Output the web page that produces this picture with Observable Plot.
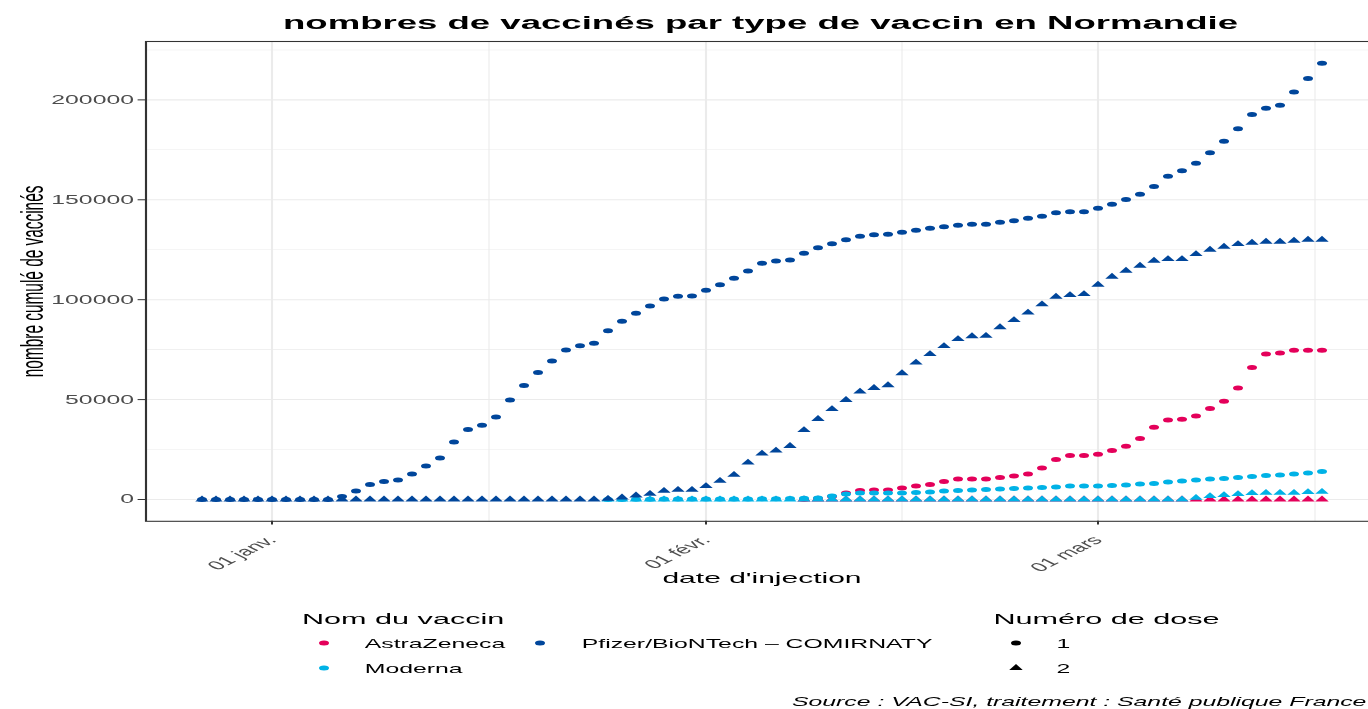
<!DOCTYPE html>
<html><head><meta charset="utf-8">
<script src="https://cdn.jsdelivr.net/npm/d3@7"></script>
<script src="https://cdn.jsdelivr.net/npm/@observablehq/plot@0.6"></script>
<style>
html,body{margin:0;padding:0;background:#fff;overflow:hidden;width:1368px;height:709px;}
#fig{position:absolute;left:0;top:0;width:700px;height:709px;transform:scale(2,1);transform-origin:0 0;font-family:"Liberation Sans",Arial,sans-serif;color:#000;}
.t{position:absolute;line-height:1;white-space:nowrap;}
</style></head><body><div id="fig">
<div class="t" id="title" style="left:0;width:760.5px;text-align:center;top:13.8px;font-size:18.3px;font-weight:bold;"></div>
<div id="chart" style="position:absolute;left:0;top:36px;"></div>
</div>
<script>
// ---------- data ----------
const titre = "nombres de vaccinés par type de vaccin en Normandie";
const yTitle = "nombre cumulé de vaccinés";
const xTitle = "date d'injection";
const caption = "Source : VAC-SI, traitement : Santé publique France";
const legendVaccinTitle = "Nom du vaccin";
const legendDoseTitle = "Numéro de dose";

const vaccins = ["AstraZeneca", "Moderna", "Pfizer/BioNTech – COMIRNATY"];
const couleurs = ["#E4005A", "#00B2E6", "#00469B"];
const doses = ["1", "2"];

const xTickDates = ["2021-01-01", "2021-02-01", "2021-03-01"];
const xTickLabels = ["01 janv.", "01 févr.", "01 mars"];
const xMinorDates = ["2021-01-16T12:00Z", "2021-02-15T00:00Z", "2021-03-16T12:00Z"];
const yMajor = [0, 50000, 100000, 150000, 200000];
const yMinor = [25000, 75000, 125000, 175000, 225000];

// first day of each series
const azStart = "2021-02-08";
const modernaStart = "2021-01-25";
const pfizerStart = "2020-12-27";

// AstraZeneca (from 8 Feb)
const azDose1 = [100, 500, 1500, 3300, 4500, 4700, 4700, 5700, 6700, 7500, 9000, 10300, 10300, 10300, 11000, 11700, 12800, 15800, 20000, 22000, 22000, 22700, 24500, 26700, 30500, 36200, 39800, 40200, 41800, 45500, 49200, 55800, 66000, 72800, 73300, 74700, 74700, 74700];
const azDose2 = [0, 0, 0, 0, 0, 0, 0, 0, 0, 0, 0, 0, 0, 0, 0, 0, 0, 0, 0, 0, 0, 0, 0, 0, 0, 0, 0, 0, 0, 0, 0, 0, 0, 0, 0, 0, 0, 0];

// Moderna (from 25 Jan)
const modernaDose1 = [0, 0, 100, 100, 200, 200, 200, 300, 300, 300, 300, 400, 400, 500, 600, 800, 1700, 2800, 3200, 3200, 3300, 3300, 3500, 3800, 4300, 4500, 4800, 5000, 5200, 5500, 5700, 6000, 6300, 6700, 6800, 6800, 7000, 7300, 7700, 8000, 8700, 9300, 9700, 10200, 10500, 11000, 11500, 12000, 12300, 12800, 13300, 14000];
const modernaDose2 = [0, 0, 0, 0, 0, 0, 0, 0, 0, 0, 0, 0, 0, 0, 0, 0, 0, 0, 0, 0, 0, 0, 0, 0, 0, 0, 0, 0, 0, 0, 0, 0, 0, 0, 0, 0, 0, 0, 0, 0, 0, 0, 800, 1700, 2200, 2700, 3200, 3300, 3300, 3300, 3700, 3800];

// Pfizer/BioNTech (from 27 Dec)
const pfizerDose1 = [0, 0, 0, 0, 0, 0, 0, 0, 0, 0, 1500, 4300, 7500, 9000, 9700, 12800, 16700, 20800, 28800, 35000, 37200, 41300, 49800, 57000, 63500, 69300, 74800, 77000, 78200, 84500, 89200, 93200, 96800, 100300, 101700, 101800, 104700, 107500, 110700, 114300, 118200, 119300, 119800, 123300, 126000, 128000, 130000, 131800, 132500, 132800, 133800, 134800, 135700, 136500, 137200, 137700, 137700, 138700, 139500, 140700, 141800, 143500, 144000, 144000, 145800, 147800, 150200, 152800, 156700, 161800, 164500, 168300, 173500, 179300, 185500, 192700, 195800, 197300, 204000, 210700, 218300];
const pfizerDose2 = [0, 0, 0, 0, 0, 0, 0, 0, 0, 0, 0, 0, 0, 0, 0, 0, 0, 0, 0, 0, 0, 0, 0, 0, 0, 0, 0, 0, 0, 300, 1000, 2000, 2800, 4300, 4800, 4800, 6700, 9300, 12300, 18500, 23000, 24500, 26800, 34700, 40300, 45200, 49800, 54000, 55800, 57200, 63200, 68500, 72800, 76800, 80300, 81700, 81900, 86200, 89800, 93500, 97700, 101500, 102300, 102800, 107500, 111500, 114500, 117000, 119500, 120300, 120300, 122800, 125000, 126500, 127800, 128500, 129000, 129000, 129500, 130000, 130000];

// ---------- table ----------
const rows = [];
function addSeries(name, start, d1, d2) {
  const s = new Date(start + "T00:00Z");
  [[d1, "1"], [d2, "2"]].forEach(([vals, dose]) => {
    vals.forEach((v, i) => rows.push({date: d3.utcDay.offset(s, i), vaccin: name, dose, value: v}));
  });
}
addSeries(vaccins[0], azStart, azDose1, azDose2);
addSeries(vaccins[1], modernaStart, modernaDose1, modernaDose2);
addSeries(vaccins[2], pfizerStart, pfizerDose1, pfizerDose2);

const xMajor = xTickDates.map(d => new Date(d + "T00:00Z"));
const xMinor = xMinorDates.map(d => new Date(d));
const labelOf = new Map(xMajor.map((d, i) => [+d, xTickLabels[i]]));

// ggplot-like 5% expansion of the data range
const allDates = rows.map(r => r.date);
const dMin = d3.min(allDates), dMax = d3.max(allDates);
const dPad = (dMax - dMin) * 0.05;
const vMax = d3.max(rows, r => r.value);
const vPad = vMax * 0.05;

const font = '"Liberation Sans", Arial, sans-serif';
const chart = Plot.plot({
  width: 700, height: 560,
  marginLeft: 72.5, marginRight: 11.5, marginTop: 5, marginBottom: 75.2,
  style: {fontFamily: font, fontSize: "12.4px", background: "transparent", overflow: "visible"},
  x: {type: "utc", domain: [new Date(+dMin - dPad), new Date(+dMax + dPad)]},
  y: {domain: [-vPad, vMax + vPad]},
  color: {domain: vaccins, range: couleurs},
  symbol: {domain: doses, range: ["circle", "triangle"]},
  marks: [
    Plot.ruleY(yMinor, {stroke: "#EBEBEB", strokeWidth: 0.55}),
    Plot.ruleX(xMinor, {stroke: "#EBEBEB", strokeWidth: 0.55}),
    Plot.ruleY(yMajor, {stroke: "#EBEBEB", strokeWidth: 1.07}),
    Plot.ruleX(xMajor, {stroke: "#EBEBEB", strokeWidth: 1.07}),
    Plot.dot(rows, {x: "date", y: "value", fill: "vaccin", symbol: "dose", r: 2.5}),
    Plot.frame({stroke: "#333333", strokeWidth: 1.07}),
    Plot.axisY(yMajor, {tickFormat: d => String(d), tickSize: 3.7, tickPadding: 2.3, stroke: "#333333", fill: "#4D4D4D", label: null, fontSize: 12.4}),
    Plot.axisX(xMajor, {tickFormat: d => labelOf.get(+d), tickRotate: -45, tickSize: 3.7, tickPadding: 13, dx: 0, stroke: "#333333", fill: "#4D4D4D", label: null, fontSize: 12.4}),
    Plot.text([yTitle], {frameAnchor: "left", textAnchor: "middle", lineAnchor: "middle", rotate: -90, dx: -56.5, fontSize: 15.4, fill: "#000"}),
    Plot.text([xTitle], {frameAnchor: "bottom", textAnchor: "middle", lineAnchor: "middle", dy: 57, fontSize: 15, fill: "#000"})
  ]
});
document.getElementById("chart").appendChild(chart);
document.getElementById("title").textContent = titre;

// ---------- legend & caption (HTML) ----------
const fig = document.getElementById("fig");
function addText(txt, left, top, size, extra = "") {
  const d = document.createElement("div");
  d.className = "t";
  d.style.cssText = `left:${left}px;top:${top}px;font-size:${size}px;${extra}`;
  d.textContent = txt;
  fig.appendChild(d);
}
function addKey(cx, cy, color, shape) {
  const ns = "http://www.w3.org/2000/svg";
  const s = document.createElementNS(ns, "svg");
  s.setAttribute("width", 12); s.setAttribute("height", 12);
  s.style.cssText = `position:absolute;left:${cx - 6}px;top:${cy - 6}px;overflow:visible;`;
  const p = document.createElementNS(ns, "path");
  const sym = shape === "triangle" ? d3.symbolTriangle : d3.symbolCircle;
  p.setAttribute("d", d3.symbol(sym, Math.PI * 2.5 * 2.5)());
  p.setAttribute("transform", "translate(6,6)");
  p.setAttribute("fill", color);
  s.appendChild(p);
  fig.appendChild(s);
}
addText(legendVaccinTitle, 151, 611, 15.3);
const vKeys = [[162.3, 643.3, 182.4], [162.3, 668.3, 182.4], [270, 643.3, 290.9]];
vaccins.forEach((v, i) => {
  const [kx, ky, lx] = vKeys[i];
  addKey(kx, ky, couleurs[i], "circle");
  addText(v, lx, ky - 5.5, 12.4);
});
addText(legendDoseTitle, 496.7, 611, 15.3);
const dKeys = [[508.3, 643.3, "circle"], [508.3, 668.3, "triangle"]];
doses.forEach((d, i) => {
  const [kx, ky, shape] = dKeys[i];
  addKey(kx, ky, "#000", shape);
  addText(d, 528.3, ky - 5.5, 12.4);
});
addText(caption, 396, 695.5, 12.4, "font-style:italic;");
</script>
</body></html>
